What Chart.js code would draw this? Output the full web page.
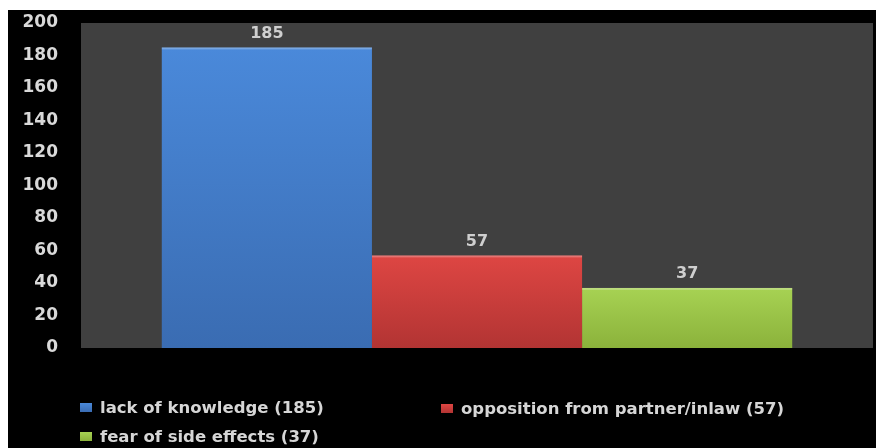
<!DOCTYPE html>
<html>
<head>
<meta charset="utf-8">
<script src="https://cdn.jsdelivr.net/npm/chart.js@4/dist/chart.umd.min.js"></script>
<style>
  html, body { margin: 0; padding: 0; background: #ffffff; }
  #wrap { position: absolute; left: 8px; top: 10px; width: 868px; height: 438px; background: #000; }
  #chart { position: absolute; left: 0; top: 0; }
  .lg { position: absolute; display: flex; align-items: center; color: #d6d6d6;
        font: bold 16.5px "DejaVu Sans", sans-serif; white-space: nowrap; }
  .lg i { display: inline-block; width: 12px; height: 9px; margin-right: 8px; }
</style>
</head>
<body>
<div id="wrap">
  <canvas id="chart" width="868" height="438"></canvas>
</div>
<script>
  // values
  var categories = ['lack of knowledge (185)', 'opposition from partner/inlaw (57)', 'fear of side effects (37)'];
  var counts = [185, 57, 37];
  var topColors = ['#4a89da', '#de4643', '#a7d253'];
  var bottomColors = ['#3a6cb2', '#b23433', '#8bb23b'];

  // legend slots: [left, centre y] inside the black frame
  var legendSlots = [[72, 397], [433, 398], [72, 426]];

  function barFill(i) {
    return function(ctx) {
      var chart = ctx.chart;
      var area = chart.chartArea;
      if (!area) return topColors[i];
      var y = chart.scales.y;
      var top = y.getPixelForValue(counts[i]);
      var g = chart.ctx.createLinearGradient(0, top, 0, area.bottom);
      g.addColorStop(0, topColors[i]);
      g.addColorStop(1, bottomColors[i]);
      return g;
    };
  }

  var plotBg = {
    id: 'plotBg',
    beforeDraw: function(chart) {
      var a = chart.chartArea, c = chart.ctx;
      c.save();
      c.fillStyle = '#404040';
      c.fillRect(a.left, a.top, a.right - a.left, a.bottom - a.top);
      c.restore();
    }
  };

  var valueLabels = {
    id: 'valueLabels',
    afterDatasetsDraw: function(chart) {
      var c = chart.ctx;
      c.save();
      c.font = 'bold 16px "DejaVu Sans", sans-serif';
      c.textAlign = 'center';
      c.textBaseline = 'middle';
      chart.data.datasets.forEach(function(ds, i) {
        var bar = chart.getDatasetMeta(i).data[0];
        // thin light edge on top of each bar
        c.fillStyle = 'rgba(255,255,255,0.25)';
        c.fillRect(bar.x - bar.width / 2, bar.y, bar.width, 2);
        c.fillStyle = '#cfcfcf';
        c.fillText(String(ds.data[0]), bar.x, bar.y - 14);
      });
      c.restore();
    }
  };

  var datasets = categories.map(function(name, i) {
    return {
      label: name,
      data: [counts[i]],
      backgroundColor: barFill(i),
      borderWidth: 0,
      categoryPercentage: 0.796,
      barPercentage: 1
    };
  });

  var chart = new Chart(document.getElementById('chart'), {
    type: 'bar',
    data: { labels: [''], datasets: datasets },
    options: {
      responsive: false,
      animation: false,
      layout: { padding: { left: 0, top: 13, right: 3, bottom: 100 } },
      plugins: { legend: { display: false }, tooltip: { enabled: false } },
      scales: {
        x: { display: false },
        y: {
          min: 0, max: 200,
          grid: { display: false, drawTicks: false },
          border: { display: false },
          afterFit: function(axis) {
            axis.width = 73;
            // tick padding is horizontal only here
            axis.paddingTop = 0;
            axis.paddingBottom = 0;
          },
          ticks: {
            stepSize: 20,
            padding: 23,
            color: '#d9d9d9',
            font: { family: 'DejaVu Sans', size: 17, weight: 'bold' }
          }
        }
      }
    },
    plugins: [plotBg, valueLabels]
  });

  // legend laid out in two columns like the original
  var wrap = document.getElementById('wrap');
  chart.data.datasets.forEach(function(ds, i) {
    var d = document.createElement('div');
    d.className = 'lg';
    d.style.left = legendSlots[i][0] + 'px';
    d.style.top = (legendSlots[i][1] - 10) + 'px';
    d.style.height = '20px';
    var sw = document.createElement('i');
    sw.style.background = 'linear-gradient(' + topColors[i] + ',' + bottomColors[i] + ')';
    d.appendChild(sw);
    d.appendChild(document.createTextNode(ds.label));
    wrap.appendChild(d);
  });
</script>
</body>
</html>
